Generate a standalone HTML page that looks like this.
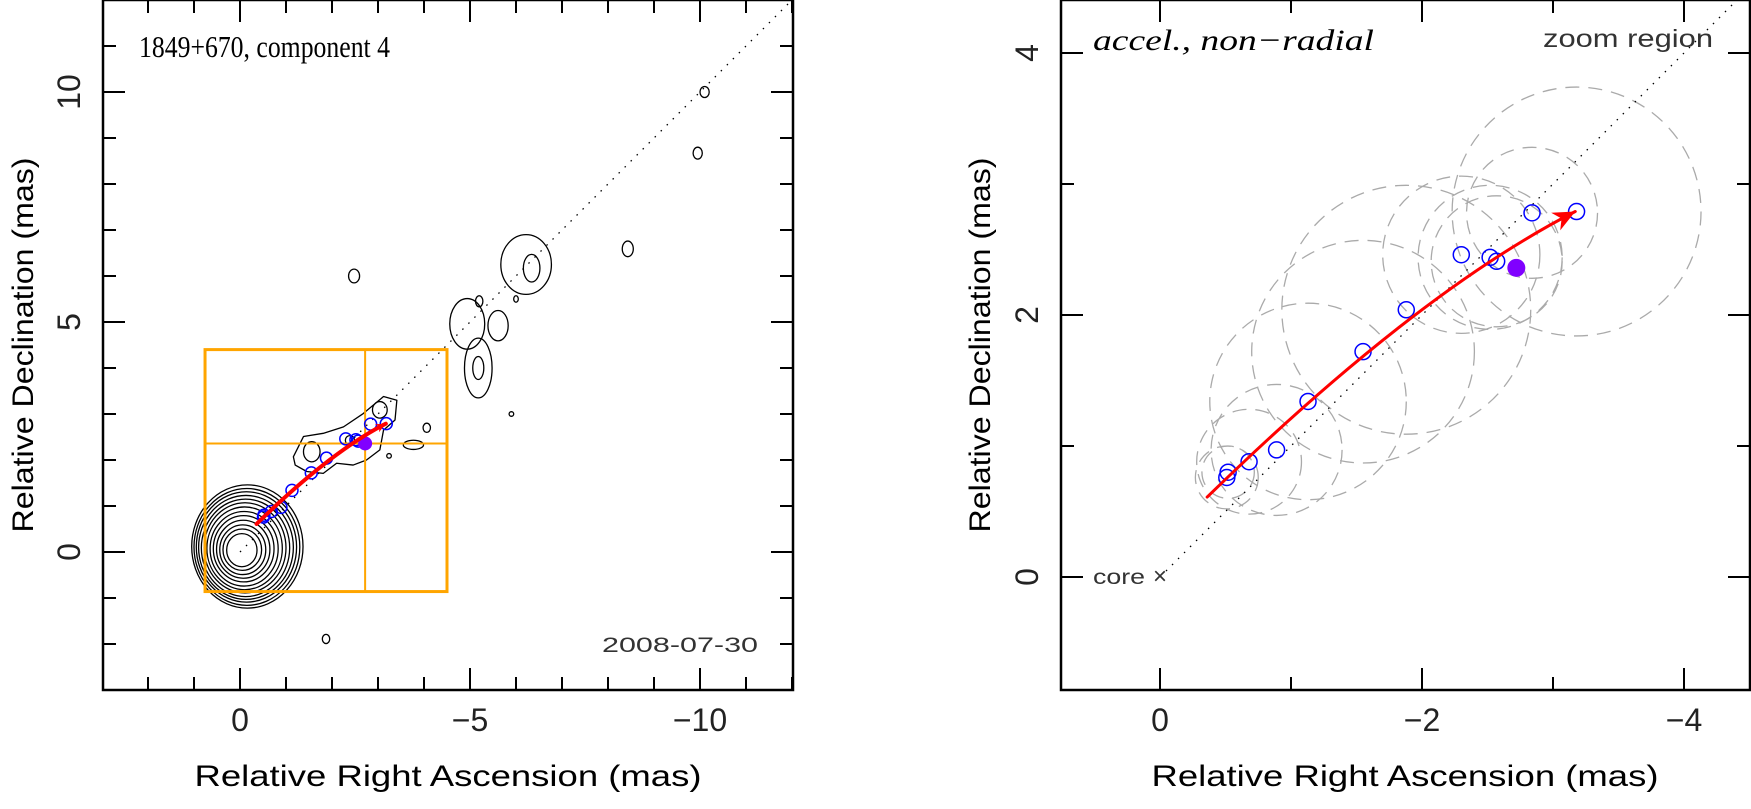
<!DOCTYPE html>
<html><head><meta charset="utf-8"><style>
html,body{margin:0;padding:0;background:#fff;}
svg{display:block;font-family:"Liberation Sans",sans-serif;}
</style></head><body>
<svg id="fig" width="1751" height="809" viewBox="0 0 1751 809" xmlns="http://www.w3.org/2000/svg">
<defs>
<clipPath id="clipL"><rect x="103" y="0" width="690" height="690"/></clipPath>
<clipPath id="clipR"><rect x="1061" y="0" width="689" height="690"/></clipPath>
</defs>
<g id="left">
  <g id="Lplot" clip-path="url(#clipL)"></g>
  <rect x="103" y="0" width="690" height="690" fill="none" stroke="#000" stroke-width="2.5"/>
  <g id="Lticks"></g>
  <text x="139" y="57" font-family="'Liberation Serif',serif" font-size="31" textLength="251" lengthAdjust="spacingAndGlyphs">1849+670, component 4</text>
  <text x="602" y="652" font-size="21" fill="#333" textLength="156" lengthAdjust="spacingAndGlyphs">2008-07-30</text>
  <text x="448" y="786" text-anchor="middle" font-size="30" textLength="507" lengthAdjust="spacingAndGlyphs">Relative Right Ascension (mas)</text>
  <text transform="translate(33,345) rotate(-90)" text-anchor="middle" font-size="30" textLength="375" lengthAdjust="spacingAndGlyphs">Relative Declination (mas)</text>
</g>
<g id="right">
  <g id="Rplot" clip-path="url(#clipR)"></g>
  <rect x="1061" y="0" width="689" height="690" fill="none" stroke="#000" stroke-width="2.5"/>
  <g id="Rticks"></g>
  <text x="1093" y="50" font-family="'Liberation Serif',serif" font-style="italic" font-size="30" textLength="281" lengthAdjust="spacingAndGlyphs">accel., non−radial</text>
  <text x="1543" y="47" font-size="25" fill="#333" textLength="170" lengthAdjust="spacingAndGlyphs">zoom region</text>
  <text x="1093" y="584" font-size="21" fill="#333" textLength="52" lengthAdjust="spacingAndGlyphs">core</text>
  <text x="1160" y="584" text-anchor="middle" font-size="24" fill="#333">×</text>
  <text x="1405" y="786" text-anchor="middle" font-size="30" textLength="507" lengthAdjust="spacingAndGlyphs">Relative Right Ascension (mas)</text>
  <text transform="translate(990,345) rotate(-90)" text-anchor="middle" font-size="30" textLength="375" lengthAdjust="spacingAndGlyphs">Relative Declination (mas)</text>
</g>
</svg>
<script>
// component positions (RA mas, Dec mas)
const compRA  = [-0.51,-0.52,-0.68,-0.89,-1.13,-1.55,-1.88,-2.30,-2.52,-2.57,-2.84,-3.18];
const compDec = [ 0.76, 0.80, 0.88, 0.97, 1.34, 1.72, 2.04, 2.46, 2.44, 2.41, 2.78, 2.79];
const compErr = [ 0.24, 0.20, 0.40, 0.50, 0.75, 0.85, 0.95, 0.60, 0.55, 0.50, 0.50, 0.95];
const refRA = -2.72, refDec = 2.36;
// fitted trajectory: start, control, end
const trackRA  = [-0.36,-1.96,-3.17];
const trackDec = [ 0.61, 2.17, 2.79];
// axis tick values
const LxTicks=[0,-5,-10], LyTicks=[0,5,10];
const RxTicks=[0,-2,-4], RyTicks=[0,2,4];
// zoom region (RA range, Dec range)
const zoomRA=[0.76,-4.5], zoomDec=[-0.86,4.4];
// core contour ellipses: centre RA, centre Dec, semi-axes
const coreCx=[-0.04,-0.05,-0.06,-0.07,-0.08,-0.09,-0.10,-0.11,-0.12,-0.13,-0.14,-0.15,-0.16];
const coreCy=[0.04,0.05,0.05,0.06,0.07,0.07,0.08,0.09,0.09,0.10,0.11,0.11,0.12];
const coreRx=[0.33,0.42,0.50,0.58,0.66,0.74,0.82,0.89,0.96,1.03,1.09,1.15,1.21];
const coreRy=[0.36,0.45,0.54,0.63,0.72,0.81,0.90,0.98,1.06,1.13,1.20,1.27,1.34];
// isolated contour blobs
const blobCx=[-2.48,-9.95,-8.43,-6.22,-6.34,-6.0,-5.61,-4.94,-5.2,-5.18,-5.18,-5.9,-1.56,-3.04,-2.39,-4.06,-3.77,-3.24,-1.87,-10.1];
const blobCy=[6.0,8.67,6.59,6.25,6.17,5.5,4.92,4.96,5.45,4.0,4.0,3.0,2.18,3.09,2.43,2.70,2.33,2.09,-1.89,10.0];
const blobRx=[0.12,0.1,0.12,0.55,0.18,0.05,0.22,0.38,0.08,0.3,0.12,0.05,0.18,0.16,0.1,0.08,0.22,0.05,0.08,0.1];
const blobRy=[0.15,0.13,0.17,0.65,0.3,0.07,0.33,0.55,0.12,0.65,0.25,0.05,0.22,0.18,0.1,0.1,0.1,0.05,0.1,0.12];
// jet emission outline
const jetRA =[-1.16,-1.38,-1.81,-2.25,-2.68,-3.12,-3.41,-3.37,-3.12,-3.04,-2.75,-2.46,-2.10,-1.81,-1.45,-1.20];
const jetDec=[2.07,2.51,2.58,2.72,3.01,3.38,3.30,2.87,2.65,2.22,2.0,1.89,1.93,1.71,1.75,1.89];

const NS='http://www.w3.org/2000/svg';
function mk(parent,tag,attrs){const e=document.createElementNS(NS,tag);for(const k in attrs)e.setAttribute(k,attrs[k]);parent.appendChild(e);return e;}
const Lx=v=>240+(0-v)*46, Ly=v=>552-v*46;
const Rx=v=>1160-v*131, Ry=v=>577-v*131;

const Lp=document.getElementById('Lplot'), Rp=document.getElementById('Rplot');
const Lt=document.getElementById('Lticks'), Rt=document.getElementById('Rticks');

function ticks(g,sx,sy,x0,x1,y0,y1,xmin,xmax,ymin,ymax,step,major,xt,yt,prefix){
  for(let v=Math.ceil(Math.min(xmin,xmax));v<=Math.max(xmin,xmax);v+=step){
    const X=sx(v);const len=(v%major===0)?22:13;
    const t1=mk(g,'line',{x1:X,x2:X,y1:y1,y2:y1-len,stroke:'#000','stroke-width':2});
    
    
    const t2=mk(g,'line',{x1:X,x2:X,y1:y0,y2:y0+len,stroke:'#000','stroke-width':2});
    
    
  }
  for(let v=Math.ceil(ymin);v<=ymax;v+=step){
    const Y=sy(v);const len=(v%major===0)?22:13;
    const t1=mk(g,'line',{x1:x0,x2:x0+len,y1:Y,y2:Y,stroke:'#000','stroke-width':2});
    
    
    const t2=mk(g,'line',{x1:x1,x2:x1-len,y1:Y,y2:Y,stroke:'#000','stroke-width':2});
    
    
  }
  xt.forEach(v=>{const t=mk(g,'text',{x:sx(v),y:731,'text-anchor':'middle','font-size':32,fill:'#222'});t.textContent=v<0?'−'+(-v):String(v);
    
    });
  yt.forEach(v=>{const t=mk(g,'text',{transform:`translate(${x0-23},${sy(v)}) rotate(-90)`,'text-anchor':'middle','font-size':32,fill:'#222'});t.textContent=String(v);
    
    });
}
ticks(Lt,Lx,Ly,103,793,0,690,2.98,-12,-3,12,1,5,LxTicks,LyTicks,'left');
ticks(Rt,Rx,Ry,1061,1750,0,690,0.76,-4.5,-0.86,4.4,1,2,RxTicks,RyTicks,'right');

let d=mk(Lp,'line',{x1:Lx(0),y1:Ly(0),x2:Lx(-13),y2:Ly(13),stroke:'#000','stroke-width':1.3,'stroke-dasharray':'1.5 7'});


for(let i=0;i<coreRx.length;i++){
  const e=mk(Lp,'ellipse',{cx:Lx(coreCx[i]),cy:Ly(coreCy[i]),rx:coreRx[i]*46,ry:coreRy[i]*46,fill:'none',stroke:'#000','stroke-width':1.3});
  
  
}
for(let i=0;i<blobCx.length;i++){
  const e=mk(Lp,'ellipse',{cx:Lx(blobCx[i]),cy:Ly(blobCy[i]),rx:blobRx[i]*46,ry:blobRy[i]*46,fill:'none',stroke:'#000','stroke-width':1.3});
  
  
}
let jp='M'+jetRA.map((v,i)=>Lx(v)+' '+Ly(jetDec[i])).join(' L')+' Z';
let jet=mk(Lp,'path',{d:jp,fill:'none',stroke:'#000','stroke-width':1.3,'stroke-linejoin':'round'});


const zb=mk(Lp,'rect',{x:Lx(zoomRA[0]),y:Ly(zoomDec[1]),width:Lx(zoomRA[1])-Lx(zoomRA[0]),height:Ly(zoomDec[0])-Ly(zoomDec[1]),fill:'none',stroke:'#ffa500','stroke-width':3});


let c1=mk(Lp,'line',{x1:Lx(refRA),x2:Lx(refRA),y1:Ly(zoomDec[1]),y2:Ly(zoomDec[0]),stroke:'#ffa500','stroke-width':2});


let c2=mk(Lp,'line',{x1:Lx(zoomRA[0]),x2:Lx(zoomRA[1]),y1:Ly(refDec),y2:Ly(refDec),stroke:'#ffa500','stroke-width':2});



function drawTrack(g,sx,sy,w,head,prefix){
  for(let i=0;i<compRA.length;i++){
    const c=mk(g,'circle',{cx:sx(compRA[i]),cy:sy(compDec[i]),r:prefix==='left'?6:8,fill:'none',stroke:'#0000ff','stroke-width':1.5});
    
    
  }
  const f=mk(g,'circle',{cx:sx(refRA),cy:sy(refDec),r:prefix==='left'?7:9,fill:'#8000ff'});
  
  
  const x0=sx(trackRA[0]),y0=sy(trackDec[0]),xc=sx(trackRA[1]),yc=sy(trackDec[1]),x2=sx(trackRA[2]),y2=sy(trackDec[2]);
  const p=mk(g,'path',{d:`M${x0} ${y0} Q${xc} ${yc} ${x2} ${y2}`,fill:'none',stroke:'#ff0000','stroke-width':w,'stroke-linecap':'round'});
  
  
  const ang=Math.atan2(y2-yc,x2-xc);
  const L=head, W=head*0.45;
  const bx=x2-L*Math.cos(ang), by=y2-L*Math.sin(ang);
  const ah=mk(g,'path',{d:`M${x2} ${y2} L${bx+W*Math.sin(ang)} ${by-W*Math.cos(ang)} L${x2-0.7*L*Math.cos(ang)} ${y2-0.7*L*Math.sin(ang)} L${bx-W*Math.sin(ang)} ${by+W*Math.cos(ang)} Z`,fill:'#ff0000'});
  
  
}
drawTrack(Lp,Lx,Ly,4,10,'left');

for(let i=0;i<compRA.length;i++){
  const c=mk(Rp,'circle',{cx:Rx(compRA[i]),cy:Ry(compDec[i]),r:compErr[i]*131,fill:'none',stroke:'#aaa','stroke-width':1.3,'stroke-dasharray':'14 9'});
  
  
}
d=mk(Rp,'line',{x1:Rx(0),y1:Ry(0),x2:Rx(-5),y2:Ry(5),stroke:'#000','stroke-width':1.3,'stroke-dasharray':'1.5 7'});


drawTrack(Rp,Rx,Ry,3,22,'right');
</script>
</body></html>
